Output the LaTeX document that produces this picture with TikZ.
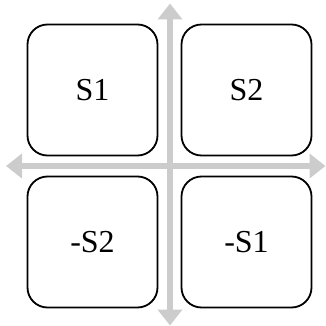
\documentclass[tikz,border=0pt]{standalone}
\usepackage{fontspec}
\setmainfont{Liberation Serif}
\usetikzlibrary{arrows.meta}
\definecolor{axisgray}{RGB}{204,204,204}
\begin{document}
\begin{tikzpicture}[x=1pt,y=-1pt,
  quad/.style={draw=black,line width=1.8pt,rounded corners=20pt,minimum width=130pt,minimum height=131pt,inner sep=0pt,font=\fontsize{32}{38}\selectfont,fill=white},
  axis/.style={draw=axisgray,line width=6pt,{Triangle[width=24pt,length=16pt]}-{Triangle[width=24pt,length=16pt]}}]
\useasboundingbox (0,0) rectangle (326,326);
\coordinate (L) at (6,166);
\coordinate (R) at (325.5,166);
\coordinate (T) at (170,3.5);
\coordinate (B) at (170,325.5);
\draw[axis] (L) -- (R);
\draw[axis] (T) -- (B);
\node[quad] (s1) at (92.5,90) {S1};
\node[quad] (s2) at (246.5,90) {S2};
\node[quad] (ms2) at (92.5,242) {-S2};
\node[quad] (ms1) at (246.5,242) {-S1};
\end{tikzpicture}
\end{document}
